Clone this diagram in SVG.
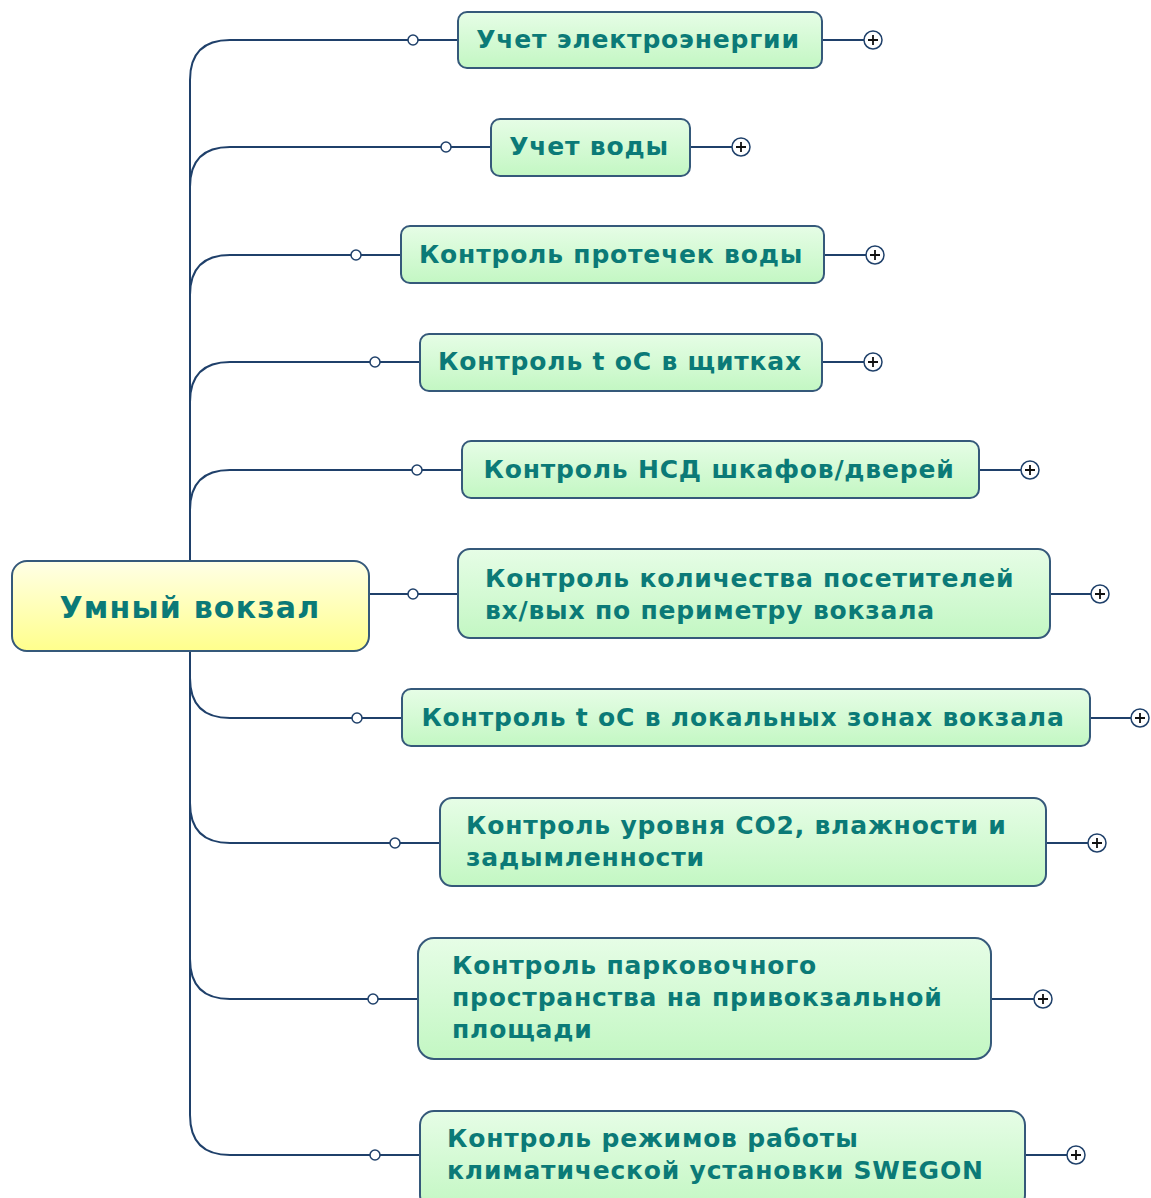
<svg xmlns="http://www.w3.org/2000/svg" width="1151" height="1198" viewBox="0 0 1151 1198">
<defs>
<linearGradient id="gg" x1="0" y1="0" x2="0" y2="1"><stop offset="0" stop-color="#e6fde6"/><stop offset="1" stop-color="#c3f7c3"/></linearGradient>
<linearGradient id="gy" x1="0" y1="0" x2="0" y2="1"><stop offset="0" stop-color="#ffffe6"/><stop offset="1" stop-color="#ffff8c"/></linearGradient>
<style>
.box{fill:url(#gg);stroke:#35597a;stroke-width:2}
.root{fill:url(#gy);stroke:#35597a;stroke-width:2}
.t{font-family:"DejaVu Sans",Verdana,sans-serif;font-weight:bold;font-size:25px;fill:#0b7a77;letter-spacing:0.8px}
.tr{font-family:"DejaVu Sans",Verdana,sans-serif;font-weight:bold;font-size:30px;fill:#0b7a77;letter-spacing:1.2px}
.ln{fill:none;stroke:#1f406a;stroke-width:2}
.dot{fill:#fff;stroke:#1f406a;stroke-width:1.5}
.pl{fill:#fff;stroke:#1f406a;stroke-width:1.5}
.px{stroke:#111;stroke-width:1.8}
</style>
</defs>
<g id="connectors">
<path class="ln" d="M190,561 V80 Q190,40 230,40 H458"/>
<path class="ln" d="M190,187 Q190,147 230,147 H491"/>
<path class="ln" d="M190,295 Q190,255 230,255 H401"/>
<path class="ln" d="M190,402 Q190,362 230,362 H420"/>
<path class="ln" d="M190,510 Q190,470 230,470 H462"/>
<path class="ln" d="M369,594 H458"/>
<path class="ln" d="M190,651 V1115 Q190,1155 230,1155 H420"/>
<path class="ln" d="M190,678 Q190,718 230,718 H402"/>
<path class="ln" d="M190,803 Q190,843 230,843 H440"/>
<path class="ln" d="M190,959 Q190,999 230,999 H418"/>
<path class="ln" d="M822,40 H864 M690,147 H732 M824,255 H866 M822,362 H864 M979,470 H1021 M1050,594 H1091 M1090,718 H1131 M1046,843 H1088 M991,999 H1034 M1025,1155 H1067"/>
<circle class="dot" cx="413" cy="40" r="5"/>
<circle class="dot" cx="446" cy="147" r="5"/>
<circle class="dot" cx="356" cy="255" r="5"/>
<circle class="dot" cx="375" cy="362" r="5"/>
<circle class="dot" cx="417" cy="470" r="5"/>
<circle class="dot" cx="413" cy="594" r="5"/>
<circle class="dot" cx="357" cy="718" r="5"/>
<circle class="dot" cx="395" cy="843" r="5"/>
<circle class="dot" cx="373" cy="999" r="5"/>
<circle class="dot" cx="375" cy="1155" r="5"/>
</g>
<g id="root"><rect class="root" x="12" y="561" width="357" height="90" rx="15"/><text class="tr" x="190" y="618" text-anchor="middle">Умный вокзал</text></g>
<g id="n1"><rect class="box" x="458" y="12" width="364" height="56" rx="9"/><text class="t" x="638" y="48" text-anchor="middle">Учет электроэнергии</text></g>
<g id="n2"><rect class="box" x="491" y="119" width="199" height="57" rx="9"/><text class="t" x="589" y="155" text-anchor="middle">Учет воды</text></g>
<g id="n3"><rect class="box" x="401" y="226" width="423" height="57" rx="9"/><text class="t" x="611" y="263" text-anchor="middle">Контроль протечек воды</text></g>
<g id="n4"><rect class="box" x="420" y="334" width="402" height="57" rx="9"/><text class="t" x="620" y="370" text-anchor="middle">Контроль t oC в щитках</text></g>
<g id="n5"><rect class="box" x="462" y="441" width="517" height="57" rx="9"/><text class="t" x="719" y="478" text-anchor="middle">Контроль НСД шкафов/дверей</text></g>
<g id="n6"><rect class="box" x="458" y="549" width="592" height="89" rx="12"/><text class="t" x="485" y="587">Контроль количества посетителей</text><text class="t" x="485" y="619">вх/вых по периметру вокзала</text></g>
<g id="n7"><rect class="box" x="402" y="689" width="688" height="57" rx="9"/><text class="t" x="743" y="726" text-anchor="middle">Контроль t oC в локальных зонах вокзала</text></g>
<g id="n8"><rect class="box" x="440" y="798" width="606" height="88" rx="12"/><text class="t" x="466" y="834">Контроль уровня CO2, влажности и</text><text class="t" x="466" y="866">задымленности</text></g>
<g id="n9"><rect class="box" x="418" y="938" width="573" height="121" rx="16"/><text class="t" x="452" y="974">Контроль парковочного</text><text class="t" x="452" y="1006">пространства на привокзальной</text><text class="t" x="452" y="1038">площади</text></g>
<g id="n10"><rect class="box" x="420" y="1111" width="605" height="98" rx="14"/><text class="t" x="447" y="1147">Контроль режимов работы</text><text class="t" x="447" y="1179">климатической установки SWEGON</text></g>
<g id="plus">
<g transform="translate(873,40)"><circle class="pl" r="9"/><path class="px" d="M-5,0H5M0,-5V5"/></g>
<g transform="translate(741,147)"><circle class="pl" r="9"/><path class="px" d="M-5,0H5M0,-5V5"/></g>
<g transform="translate(875,255)"><circle class="pl" r="9"/><path class="px" d="M-5,0H5M0,-5V5"/></g>
<g transform="translate(873,362)"><circle class="pl" r="9"/><path class="px" d="M-5,0H5M0,-5V5"/></g>
<g transform="translate(1030,470)"><circle class="pl" r="9"/><path class="px" d="M-5,0H5M0,-5V5"/></g>
<g transform="translate(1100,594)"><circle class="pl" r="9"/><path class="px" d="M-5,0H5M0,-5V5"/></g>
<g transform="translate(1140,718)"><circle class="pl" r="9"/><path class="px" d="M-5,0H5M0,-5V5"/></g>
<g transform="translate(1097,843)"><circle class="pl" r="9"/><path class="px" d="M-5,0H5M0,-5V5"/></g>
<g transform="translate(1043,999)"><circle class="pl" r="9"/><path class="px" d="M-5,0H5M0,-5V5"/></g>
<g transform="translate(1076,1155)"><circle class="pl" r="9"/><path class="px" d="M-5,0H5M0,-5V5"/></g>
</g>
</svg>
